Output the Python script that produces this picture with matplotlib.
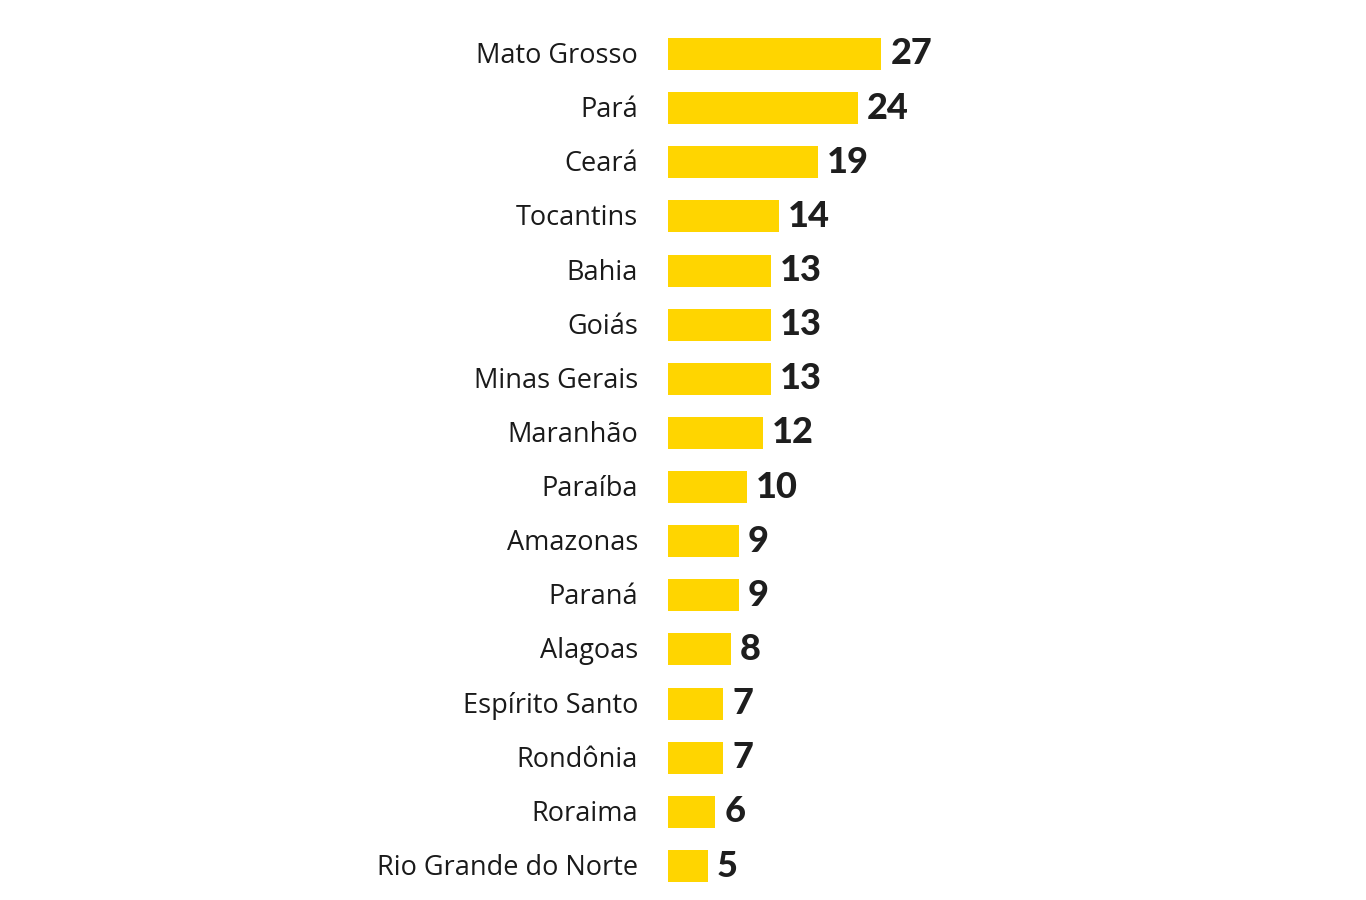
import matplotlib
matplotlib.use("Agg")
import matplotlib.pyplot as plt

states = ["Mato Grosso", "Pará", "Ceará", "Tocantins", "Bahia", "Goiás",
          "Minas Gerais", "Maranhão", "Paraíba", "Amazonas", "Paraná",
          "Alagoas", "Espírito Santo", "Rondônia", "Roraima", "Rio Grande do Norte"]
values = [27, 24, 19, 14, 13, 13, 13, 12, 10, 9, 9, 8, 7, 7, 6, 5]

W, H = 1366, 900
fig = plt.figure(figsize=(W / 100, H / 100), dpi=100)
fig.patch.set_facecolor("white")

left_px = 668
px_per_unit = 7.9
ax = fig.add_axes([left_px / W, 0, (W - left_px) / W, 1])
ax.set_xlim(0, (W - left_px) / px_per_unit)

row_px = (866 - 54) / 15
ax.set_ylim(15 + (H - 866) / row_px, -54 / row_px)

ypos = list(range(len(states)))
ax.barh(ypos, values, height=32 / row_px, color="#FFD500", edgecolor="none")

for y, name, v in zip(ypos, states, values):
    ax.annotate(name, xy=(0, y), xytext=(-30, -2), textcoords="offset pixels",
                ha="right", va="center", fontsize=19.5, family="Open Sans",
                color="#1a1a1a")
    ax.annotate(str(v), xy=(v, y), xytext=(9, 0), textcoords="offset pixels",
                ha="left", va="center", fontsize=26, family="Lato",
                fontweight="black", color="#1e1e1e")

ax.axis("off")
fig.savefig("out.png", dpi=100, facecolor="white")
